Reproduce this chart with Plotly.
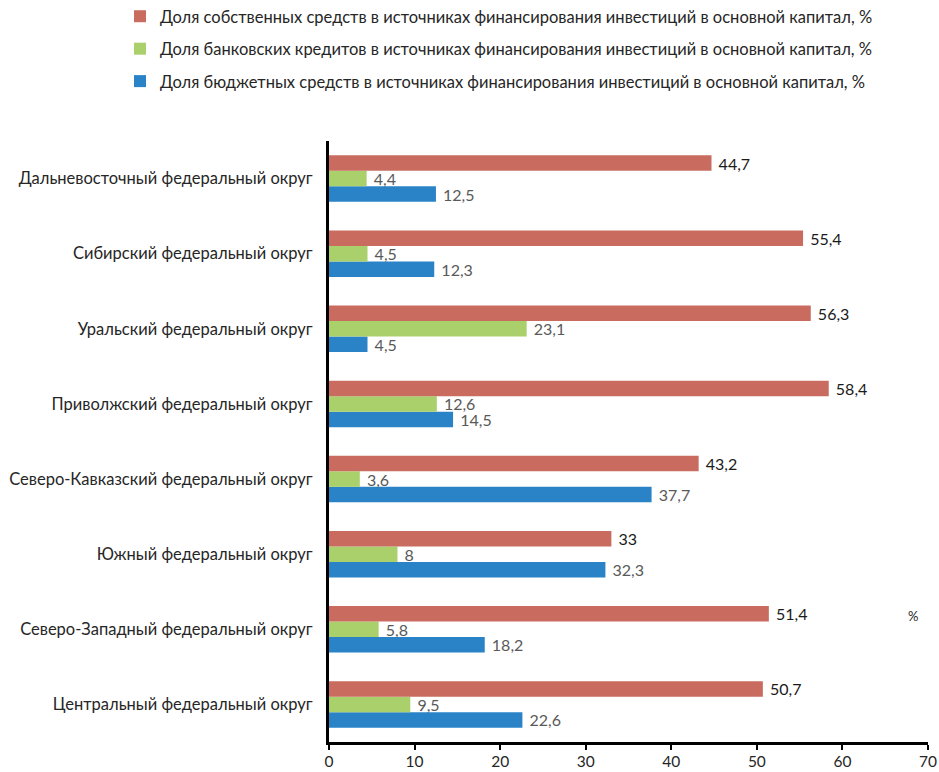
import plotly.graph_objects as go

# Federal districts, listed bottom-to-top as they appear on the y axis
districts = [
    "Центральный федеральный округ",
    "Северо-Западный федеральный округ",
    "Южный федеральный округ",
    "Северо-Кавказский федеральный округ",
    "Приволжский федеральный округ",
    "Уральский федеральный округ",
    "Сибирский федеральный округ",
    "Дальневосточный федеральный округ",
]

own_funds = [50.7, 51.4, 33, 43.2, 58.4, 56.3, 55.4, 44.7]
bank_loans = [9.5, 5.8, 8, 3.6, 12.6, 23.1, 4.5, 4.4]
budget_funds = [22.6, 18.2, 32.3, 37.7, 14.5, 4.5, 12.3, 12.5]

name_own = "Доля собственных средств в источниках финансирования инвестиций в основной капитал, %"
name_bank = "Доля банковских кредитов в источниках финансирования инвестиций в основной капитал, %"
name_budget = "Доля бюджетных средств в источниках финансирования инвестиций в основной капитал, %"

x_ticks = [0, 10, 20, 30, 40, 50, 60, 70]

FONT = "Lato, Liberation Sans, sans-serif"
FS = 16.5
RED = "#C96C5F"
GREEN = "#A9D06B"
BLUE = "#2A83C7"

# plot-area geometry in pixels
W, H = 939, 772
L, R, T, B = 329, 11, 141, 30
PW, PH = W - L - R, H - T - B


def fmt(v):
    # decimal comma, with a small lead-in gap from the bar end
    return "\u00a0" + f"{v:g}".replace(".", ",")


fig = go.Figure()

# Traces are added bottom-up within each group: blue, green, red
for name, vals, color, tcolor, rank in [
    (name_budget, budget_funds, BLUE, "#595959", 3),
    (name_bank, bank_loans, GREEN, "#595959", 2),
    (name_own, own_funds, RED, "#1a1a1a", 1),
]:
    fig.add_trace(go.Bar(
        y=districts,
        x=vals,
        name=name,
        orientation="h",
        marker=dict(color=color, line=dict(width=0)),
        text=[fmt(v) for v in vals],
        textposition="outside",
        constraintext="none",
        textfont=dict(family=FONT, size=16, color=tcolor),
        cliponaxis=False,
        legendgroup=f"g{rank}",
        legendrank=rank,
    ))

fig.update_layout(
    width=W,
    height=H,
    margin=dict(l=L, r=R, t=T, b=B, autoexpand=False),
    paper_bgcolor="white",
    plot_bgcolor="white",
    barmode="group",
    bargap=0.38,
    bargroupgap=0,
    font=dict(family=FONT, size=FS, color="#262626"),
    showlegend=True,
    legend=dict(
        x=(120 - L) / PW,
        y=1 + (T + 1) / PH,
        xanchor="left",
        yanchor="top",
        traceorder="grouped",
        tracegroupgap=8,
        font=dict(family=FONT, size=FS, color="#262626"),
        itemwidth=30,
        bgcolor="rgba(0,0,0,0)",
    ),
    xaxis=dict(
        range=[0, 70],
        tickvals=x_ticks,
        ticktext=[str(t) for t in x_ticks],
        showgrid=False,
        zeroline=False,
        showline=True,
        linecolor="black",
        linewidth=3,
        ticks="outside",
        ticklen=5,
        tickwidth=2,
        tickcolor="black",
        ticklabelstandoff=-2,
        tickfont=dict(family=FONT, size=15.5, color="#262626"),
    ),
    yaxis=dict(
        showgrid=False,
        zeroline=False,
        showline=True,
        linecolor="black",
        linewidth=3,
        ticks="",
        ticklabelstandoff=10,
        tickfont=dict(family=FONT, size=FS, color="#262626"),
    ),
    annotations=[
        dict(
            text="%",
            x=(920 - L) / PW,
            y=(H - B - 626) / PH,
            xref="paper",
            yref="paper",
            showarrow=False,
            font=dict(family=FONT, size=13, color="#262626"),
        )
    ],
)

fig.write_html("out.html")
